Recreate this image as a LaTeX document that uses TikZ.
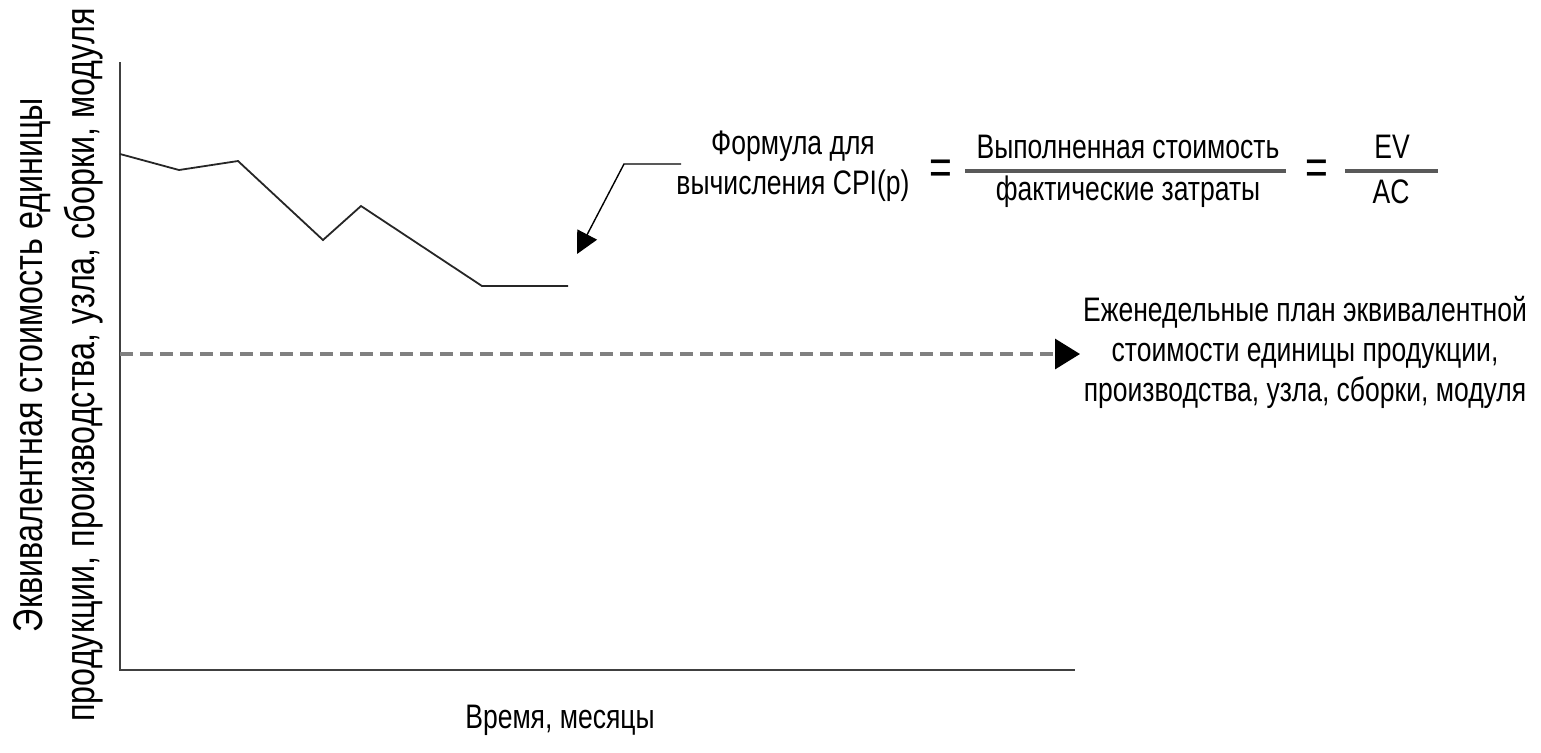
\documentclass[tikz,border=0pt]{standalone}
\usepackage{fontspec}
\setmainfont[FakeStretch=0.78]{Liberation Sans}
\usepackage{tikz}
\usetikzlibrary{arrows.meta, positioning}

\tikzset{
  axis line/.style={line width=1.4pt, draw=black!75},
  cpi line/.style={line width=0.9pt, draw=black!85, line join=miter},
  plan line/.style={line width=1.6pt, draw=black!50, dash pattern=on 6.5pt off 3.5pt},
  lead line/.style={line width=0.7pt, draw=black},
  frac bar/.style={line width=1.8pt, draw=black!65},
  label text/.style={align=center, inner sep=0pt},
  eq sign/.style={inner sep=0pt, font=\fontsize{25}{25}\selectfont}
}

\begin{document}
\begin{tikzpicture}[x=0.5pt, y=-0.5pt, >={Triangle[length=10pt, width=10pt]},
    font=\fontsize{17}{20}\selectfont]
  \useasboundingbox (0,0) rectangle (1541,752);

  % Axes
  \coordinate (y-top) at (120,62);
  \coordinate (origin) at (120,670);
  \coordinate (x-end) at (1075,670);
  \draw [axis line] (y-top) -- (origin) -- (x-end);

  % Actual CPI curve
  \foreach \x/\y [count=\i] in {120/154, 179/170, 238/161, 323/240, 361/206, 482/286, 568/286}
    \coordinate (cpi-\i) at (\x,\y);
  \draw [cpi line] (cpi-1) \foreach \i in {2,...,7} { -- (cpi-\i) };

  % Planned weekly value (dashed)
  \coordinate (plan-start) at (120,354);
  \coordinate (plan-tip) at (1080,354);
  \draw [plan line, -{Triangle[length=12.5pt, width=15pt, black]}] (plan-start) -- (plan-tip);

  \node [label text] (plan-label) at (1305,352)
    {Еженедельные план эквивалентной\\стоимости единицы продукции,\\производства, узла, сборки, модуля};

  % Formula
  \node [label text] (formula-name) at (793,166) {Формула для\\вычисления CPI(p)};
  \node [eq sign] (eq-1) at (941,172) {=};
  \node [label text] (num-1) at (1128,147) {Выполненная стоимость};
  \node [label text] (den-1) at (1128,192) {фактические затраты};
  \node [eq sign] (eq-2) at (1317,172) {=};
  \node [label text] (num-2) at (1392,147) {EV};
  \node [label text] (den-2) at (1391,192) {AC};

  % Fraction bars
  \coordinate (bar-1-l) at (965,171);
  \coordinate (bar-1-r) at (1286,171);
  \coordinate (bar-2-l) at (1345,171);
  \coordinate (bar-2-r) at (1438,171);
  \draw [frac bar] (bar-1-l) -- (bar-1-r);
  \draw [frac bar] (bar-2-l) -- (bar-2-r);

  % Leader to the curve
  \coordinate (lead-start) at (681,164);
  \coordinate (lead-bend) at (624,164);
  \coordinate (lead-tip) at (577,254);
  \draw [lead line, -{Triangle[length=11pt, width=11pt]}] (lead-start) -- (lead-bend) -- (lead-tip);

  % Axis labels
  \node [label text, rotate=90, font=\fontsize{20.7}{26}\selectfont] (y-label) at (58,365)
    {Эквивалентная стоимость единицы\\продукции, производства, узла, сборки, модуля};
  \node [label text] (x-label) at (560,720) {Время, месяцы};
\end{tikzpicture}
\end{document}
